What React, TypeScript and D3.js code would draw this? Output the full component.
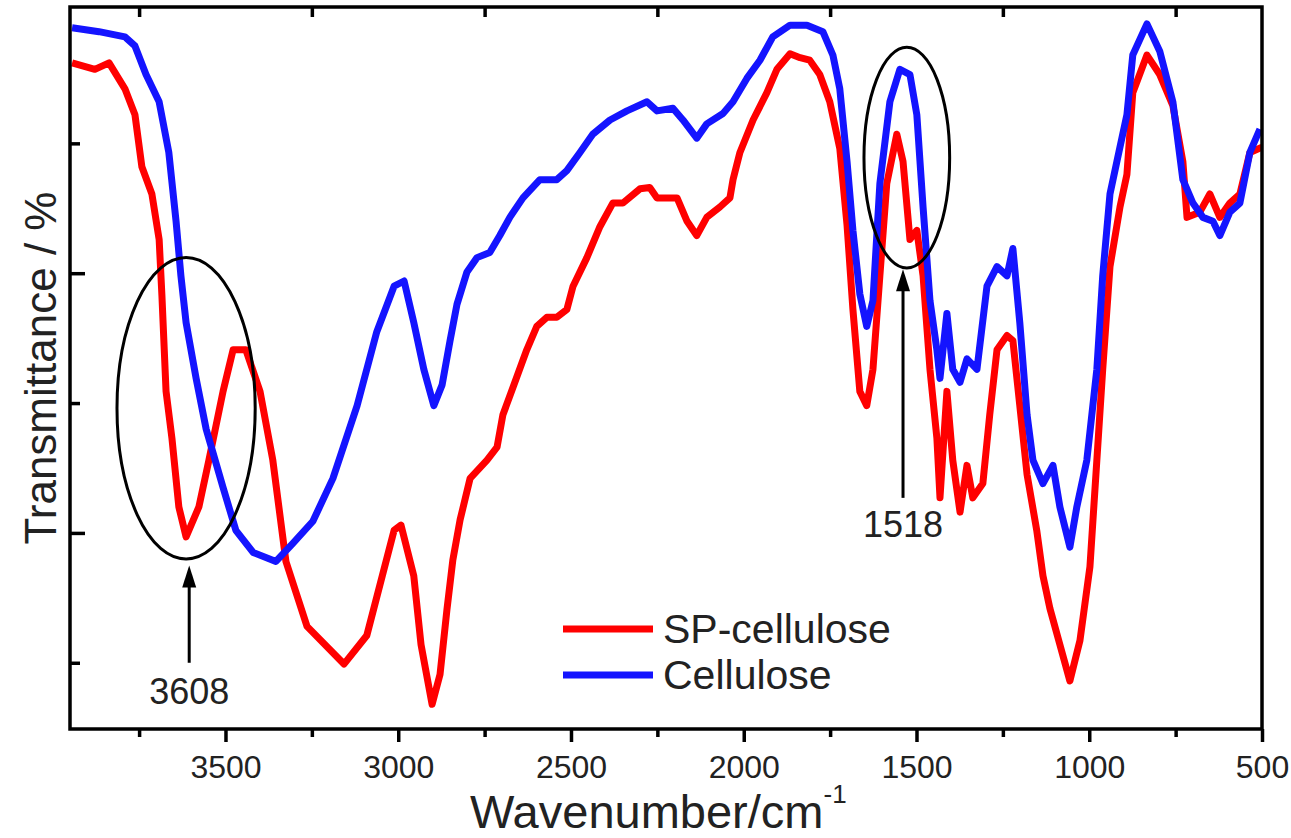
import { useEffect, useRef } from 'react';
import * as d3 from 'd3';

// FTIR spectra (wavenumber in cm-1, transmittance in arbitrary %)
const spWavenumber = [
  3944, 3878, 3837, 3791, 3762, 3742, 3713, 3692, 3684, 3672,
  3655, 3635, 3614, 3577, 3548, 3507, 3478, 3441, 3400, 3363,
  3325, 3264, 3157, 3091, 3012, 2992, 2955, 2934, 2902, 2879,
  2859, 2842, 2821, 2792, 2743, 2714, 2697, 2668, 2628, 2599,
  2570, 2541, 2512, 2494, 2454, 2416, 2379, 2350, 2300, 2272,
  2251, 2193, 2164, 2136, 2107, 2069, 2040, 2031, 2011, 1973,
  1933, 1904, 1866, 1837, 1809, 1780, 1751, 1722, 1701, 1684,
  1664, 1644, 1626, 1606, 1586, 1557, 1539, 1519, 1499, 1481,
  1461, 1441, 1432, 1412, 1395, 1374, 1354, 1337, 1308, 1288,
  1267, 1238, 1221, 1201, 1180, 1152, 1134, 1114, 1085, 1056,
  1027, 998, 978, 961, 940, 911, 891, 874, 833, 796,
  758, 729, 717, 680, 651, 622, 593, 564, 535, 500,
];
const spTransmittance = [
  56.2, 55.7, 56.2, 54.2, 52.2, 48.2, 46.1, 42.6, 38.3, 30.9,
  27.3, 22.0, 19.7, 22.0, 25.6, 30.9, 34.1, 34.1, 30.9, 25.6,
  17.8, 12.8, 9.9, 12.1, 20.2, 20.6, 16.7, 11.4, 6.8, 9.1,
  14.1, 17.9, 21.0, 24.2, 25.6, 26.6, 29.1, 31.2, 34.1, 35.9,
  36.6, 36.6, 37.2, 39.0, 41.2, 43.6, 45.4, 45.4, 46.5, 46.6,
  45.8, 45.8, 44.0, 42.9, 44.3, 45.1, 45.8, 47.2, 49.3, 51.8,
  53.9, 55.7, 56.9, 56.6, 56.4, 55.3, 53.2, 49.6, 43.7, 37.2,
  30.9, 29.8, 32.6, 39.8, 46.9, 50.7, 48.6, 42.6, 43.3, 39.8,
  32.6, 27.3, 22.7, 30.9, 25.6, 21.6, 25.2, 22.7, 23.8, 29.1,
  34.1, 35.2, 34.8, 29.8, 24.5, 20.2, 16.7, 14.2, 11.4, 8.6,
  11.7, 17.4, 25.6, 32.6, 40.5, 45.1, 47.6, 53.9, 56.8, 55.3,
  52.9, 48.6, 44.3, 44.7, 46.1, 44.3, 45.4, 46.1, 49.3, 49.7,
];

const celWavenumber = [
  3944, 3866, 3791, 3762, 3730, 3692, 3664, 3643, 3629, 3614,
  3585, 3556, 3507, 3470, 3420, 3354, 3305, 3247, 3189, 3119,
  3062, 3012, 2983, 2955, 2926, 2897, 2873, 2850, 2830, 2801,
  2772, 2735, 2706, 2677, 2639, 2590, 2541, 2512, 2474, 2437,
  2387, 2338, 2280, 2251, 2205, 2176, 2136, 2107, 2060, 2031,
  1991, 1953, 1916, 1866, 1817, 1771, 1742, 1722, 1701, 1684,
  1664, 1644, 1626, 1606, 1577, 1548, 1519, 1499, 1481, 1461,
  1441, 1432, 1412, 1395, 1374, 1354, 1325, 1296, 1267, 1238,
  1221, 1201, 1180, 1163, 1134, 1105, 1085, 1056, 1036, 1007,
  978, 961, 940, 920, 891, 874, 833, 796, 758, 729,
  700, 671, 642, 622, 593, 564, 535, 506,
];
const celTransmittance = [
  58.9, 58.6, 58.2, 57.5, 55.3, 53.2, 49.3, 44.0, 39.8, 36.2,
  31.9, 28.0, 23.5, 20.2, 18.5, 17.8, 19.2, 20.9, 24.2, 29.8,
  35.5, 39.0, 39.4, 36.2, 32.6, 29.8, 31.4, 34.8, 37.6, 40.1,
  41.2, 41.6, 42.9, 44.3, 45.8, 47.2, 47.2, 47.9, 49.3, 50.7,
  51.8, 52.5, 53.2, 52.5, 52.7, 51.8, 50.4, 51.5, 52.3, 53.2,
  55.0, 56.4, 58.2, 59.1, 59.1, 58.6, 56.8, 54.2, 48.6, 43.3,
  38.4, 35.9, 37.9, 46.9, 53.2, 55.7, 55.3, 52.2, 45.1, 37.9,
  34.1, 31.9, 36.9, 32.6, 31.6, 33.4, 32.6, 39.0, 40.5, 39.8,
  41.9, 36.2, 29.1, 25.6, 23.8, 25.2, 22.0, 18.9, 22.0, 25.6,
  32.6, 39.8, 46.1, 48.6, 52.2, 56.8, 59.2, 57.1, 53.2, 47.2,
  45.4, 44.3, 44.0, 42.9, 44.7, 45.4, 49.3, 51.1,
];

const majorTicks = [3500, 3000, 2500, 2000, 1500, 1000, 500];
const minorTicks = [3750, 3250, 2750, 2250, 1750, 1250, 750];
const yMajorTicks = [20, 40];
const yMinorTicks = [10, 30, 50];

const seriesNames = ['SP-cellulose', 'Cellulose'];
const seriesColors = ['#ff0000', '#1414ff'];

// circled bands with arrows and labels
const bandLabels = ['3608', '1518'];
const bandCentre = [[3614, 29.6], [1528, 48.9]];
const bandHalfSize = [[200, 11.6], [124, 8.5]];
const arrowWavenumber = [3605, 1539];
const arrowFromTo = [[10.0, 17.5], [22.7, 40.3]];
const labelBaseline = [6.8, 19.7];

const FONT = '"Liberation Sans", Arial, sans-serif';

function FtirChart() {
  const svgRef = useRef(null);

  useEffect(() => {
    const width = 1291;
    const height = 838;
    const margin = { top: 7, right: 29, bottom: 109, left: 70 };

    const svg = d3.select(svgRef.current);
    svg.selectAll('*').remove();

    const x = d3.scaleLinear().domain([3950, 500]).range([margin.left, width - margin.right]);
    const y = d3.scaleLinear().domain([4.9, 60.5]).range([height - margin.bottom, margin.top]);

    svg.append('defs').append('clipPath').attr('id', 'plot-clip')
      .append('rect')
      .attr('x', margin.left).attr('y', margin.top)
      .attr('width', width - margin.left - margin.right)
      .attr('height', height - margin.top - margin.bottom);

    // Spectra
    const data = [
      spWavenumber.map((w, i) => [w, spTransmittance[i]]),
      celWavenumber.map((w, i) => [w, celTransmittance[i]]),
    ];
    const line = d3.line().x(d => x(d[0])).y(d => y(d[1]));

    const curves = svg.append('g').attr('clip-path', 'url(#plot-clip)');
    data.forEach((d, i) => {
      curves.append('path')
        .datum(d)
        .attr('fill', 'none')
        .attr('stroke', seriesColors[i])
        .attr('stroke-width', 7)
        .attr('stroke-linejoin', 'round')
        .attr('d', line);
    });

    // Bottom axis
    const bottom = svg.append('g').attr('transform', `translate(0, ${y.range()[0]})`);
    bottom.append('g')
      .call(d3.axisBottom(x).tickValues(majorTicks).tickSize(13).tickPadding(13).tickFormat(d3.format('d')))
      .call(g => g.select('.domain').remove())
      .call(g => g.selectAll('line').attr('stroke-width', 3.5))
      .call(g => g.selectAll('text').attr('font-family', FONT).attr('font-size', 32).attr('fill', '#222'));
    bottom.append('g')
      .call(d3.axisBottom(x).tickValues(minorTicks).tickSize(8).tickFormat(() => ''))
      .call(g => g.select('.domain').remove())
      .call(g => g.selectAll('line').attr('stroke-width', 3.5));

    // Top axis, inward minor ticks
    svg.append('g').attr('transform', `translate(0, ${margin.top})`)
      .call(d3.axisTop(x).tickValues(minorTicks).tickSize(-10).tickFormat(() => ''))
      .call(g => g.select('.domain').remove())
      .call(g => g.selectAll('line').attr('stroke-width', 3.5));

    // Left axis, inward ticks, no labels
    const left = svg.append('g').attr('transform', `translate(${margin.left}, 0)`);
    left.append('g')
      .call(d3.axisLeft(y).tickValues(yMajorTicks).tickSize(-15).tickFormat(() => ''))
      .call(g => g.select('.domain').remove())
      .call(g => g.selectAll('line').attr('stroke-width', 3.5));
    left.append('g')
      .call(d3.axisLeft(y).tickValues(yMinorTicks).tickSize(-10).tickFormat(() => ''))
      .call(g => g.select('.domain').remove())
      .call(g => g.selectAll('line').attr('stroke-width', 3.5));

    // Frame
    svg.append('rect')
      .attr('x', margin.left).attr('y', margin.top)
      .attr('width', width - margin.left - margin.right)
      .attr('height', height - margin.top - margin.bottom)
      .attr('fill', 'none')
      .attr('stroke', '#000')
      .attr('stroke-width', 3.5);

    // Circled bands and arrows
    bandLabels.forEach((label, i) => {
      const [cw, ct] = bandCentre[i];
      const [dw, dt] = bandHalfSize[i];
      svg.append('ellipse')
        .attr('cx', x(cw)).attr('cy', y(ct))
        .attr('rx', Math.abs(x(cw - dw) - x(cw)))
        .attr('ry', Math.abs(y(ct - dt) - y(ct)))
        .attr('fill', 'none')
        .attr('stroke', '#000')
        .attr('stroke-width', 3);

      const ax = x(arrowWavenumber[i]);
      const y0 = y(arrowFromTo[i][0]);
      const y1 = y(arrowFromTo[i][1]);
      svg.append('line')
        .attr('x1', ax).attr('x2', ax)
        .attr('y1', y0).attr('y2', y1 + 18)
        .attr('stroke', '#000')
        .attr('stroke-width', 3);
      svg.append('path')
        .attr('d', `M${ax},${y1} L${ax - 7},${y1 + 22} L${ax + 7},${y1 + 22} Z`)
        .attr('fill', '#000');

      svg.append('text')
        .attr('x', ax)
        .attr('y', y(labelBaseline[i]))
        .attr('text-anchor', 'middle')
        .attr('font-family', FONT)
        .attr('font-size', 36)
        .attr('fill', '#222')
        .text(label);
    });

    // Legend
    const legend = svg.append('g').attr('transform', 'translate(563, 629)');
    seriesNames.forEach((name, i) => {
      const row = legend.append('g').attr('transform', `translate(0, ${i * 46})`);
      row.append('line')
        .attr('x1', 0).attr('x2', 90)
        .attr('stroke', seriesColors[i])
        .attr('stroke-width', 7);
      row.append('text')
        .attr('x', 100).attr('y', 14)
        .attr('font-family', FONT)
        .attr('font-size', 41)
        .attr('fill', '#222')
        .text(name);
    });

    // Axis titles
    svg.append('text')
      .attr('transform', `translate(56, ${(margin.top + y.range()[0]) / 2}) rotate(-90)`)
      .attr('text-anchor', 'middle')
      .attr('font-family', FONT)
      .attr('font-size', 44)
      .attr('fill', '#222')
      .text('Transmittance / %');

    const xTitle = svg.append('text')
      .attr('x', 470).attr('y', 828)
      .attr('font-family', FONT)
      .attr('font-size', 47)
      .attr('fill', '#222');
    xTitle.append('tspan').text('Wavenumber/cm');
    xTitle.append('tspan').attr('dy', -25).attr('font-size', 26).text('-1');
  }, []);

  return (
    <div style={{ position: 'absolute', left: 0, top: 0, background: '#fff' }}>
      <svg ref={svgRef} width={1291} height={838} style={{ display: 'block' }}></svg>
    </div>
  );
}

export default function App() {
  return <FtirChart />;
}
